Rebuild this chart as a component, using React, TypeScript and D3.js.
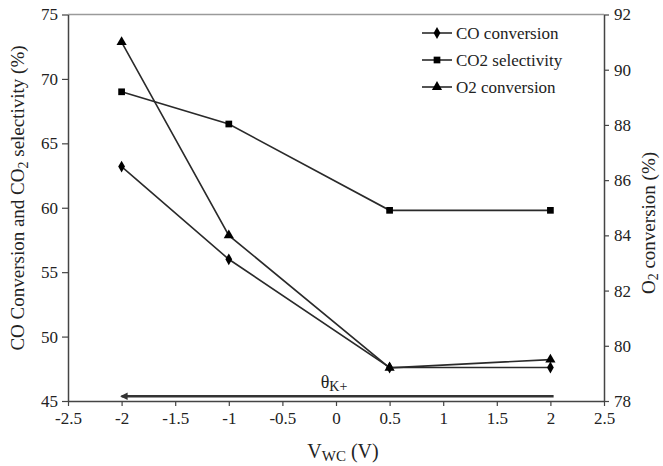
import React, { useEffect, useRef } from "react";
import * as d3 from "d3";

const vwc = [-2, -1, 0.5, 2];
const coConversion = [63.2, 56.0, 47.6, 47.6];
const co2Selectivity = [69.0, 66.5, 59.8, 59.8];
const o2Conversion = [91.0, 84.0, 79.2, 79.5];
const xTicks = [-2.5, -2, -1.5, -1, -0.5, 0, 0.5, 1, 1.5, 2, 2.5];
const yLeftTicks = [45, 50, 55, 60, 65, 70, 75];
const yRightTicks = [78, 80, 82, 84, 86, 88, 90, 92];
const legendLabels = ["CO conversion", "CO2 selectivity", "O2 conversion"];
const arrowFrom = 2.03;
const arrowTo = -2;
const arrowLevel = 45.37;

const W = 663, H = 466;
const M = { left: 68, right: 604, top: 14.5, bottom: 401 };
const FONT = "Liberation Serif, Times New Roman, serif";

export default function App() {
  const ref = useRef<SVGSVGElement | null>(null);
  useEffect(() => {
    const svg = d3.select(ref.current);
    svg.selectAll("*").remove();
    const x = d3.scaleLinear().domain([-2.5, 2.5]).range([M.left, M.right]);
    const yL = d3.scaleLinear().domain([45, 75]).range([M.bottom, M.top]);
    const yR = d3.scaleLinear().domain([78, 92]).range([M.bottom, M.top]);

    // top border
    svg.append("line").attr("x1", M.left).attr("x2", M.right).attr("y1", M.top).attr("y2", M.top)
      .attr("stroke", "#9a9a9a").attr("stroke-width", 1.5);

    const styleAxis = (g: any) => {
      g.selectAll(".domain").attr("stroke", "#444").attr("stroke-width", 1.5);
      g.selectAll(".tick line").attr("stroke", "#444").attr("stroke-width", 1.2);
      g.selectAll("text").attr("font-family", FONT).attr("font-size", 17).attr("fill", "#222");
    };

    const gx = svg.append("g").attr("transform", `translate(0,${M.bottom})`)
      .call(d3.axisBottom(x).tickValues(xTicks).tickSize(5).tickSizeOuter(0).tickPadding(6).tickFormat((d: any) => String(d)));
    styleAxis(gx);
    const gl = svg.append("g").attr("transform", `translate(${M.left},0)`)
      .call(d3.axisLeft(yL).tickValues(yLeftTicks).tickSize(6).tickSizeOuter(0).tickPadding(4));
    styleAxis(gl);
    const gr = svg.append("g").attr("transform", `translate(${M.right},0)`)
      .call(d3.axisRight(yR).tickValues(yRightTicks).tickSize(5).tickSizeOuter(0).tickPadding(5));
    styleAxis(gr);

    // theta arrow
    svg.append("defs").append("marker").attr("id", "ah").attr("viewBox", "0 0 10 10")
      .attr("refX", 8).attr("refY", 5).attr("markerWidth", 3.5).attr("markerHeight", 3)
      .attr("orient", "auto").append("path").attr("d", "M0,0 L10,5 L0,10 z").attr("fill", "#333");
    svg.append("line").attr("x1", x(arrowFrom)).attr("x2", x(arrowTo))
      .attr("y1", yL(arrowLevel)).attr("y2", yL(arrowLevel))
      .attr("stroke", "#333").attr("stroke-width", 2.5).attr("marker-end", "url(#ah)");
    const th = svg.append("text").attr("x", x(0) - 2).attr("y", yL(46.0)).attr("text-anchor", "middle")
      .attr("font-family", FONT).attr("font-size", 18).attr("fill", "#222");
    th.append("tspan").text("θ");
    th.append("tspan").attr("font-size", 14).attr("dy", 3).text("K+");

    const series = [
      { vals: coConversion, y: yL, sym: d3.symbolDiamond, size: 40 },
      { vals: co2Selectivity, y: yL, sym: d3.symbolSquare, size: 45 },
      { vals: o2Conversion, y: yR, sym: d3.symbolTriangle, size: 45 },
    ];
    series.forEach((s) => {
      const line = d3.line<number>().x((_, i) => x(vwc[i])).y((d) => s.y(d));
      svg.append("path").attr("d", line(s.vals) as string).attr("fill", "none")
        .attr("stroke", "#2a2a2a").attr("stroke-width", 1.6);
      svg.selectAll(null).data(s.vals).enter().append("path")
        .attr("transform", (d, i) => `translate(${x(vwc[i])},${s.y(d)})`)
        .attr("d", d3.symbol().type(s.sym).size(s.size)() as string).attr("fill", "#000");
    });

    // legend
    series.forEach((s, i) => {
      const ly = 33 + i * 27;
      svg.append("line").attr("x1", 422).attr("x2", 452).attr("y1", ly).attr("y2", ly)
        .attr("stroke", "#2a2a2a").attr("stroke-width", 1.6);
      svg.append("path").attr("transform", `translate(437,${ly})`)
        .attr("d", d3.symbol().type(s.sym).size(s.size)() as string).attr("fill", "#000");
      svg.append("text").attr("x", 456).attr("y", ly + 6).attr("font-family", FONT).attr("font-size", 17)
        .attr("fill", "#222").text(legendLabels[i]);
    });

    // axis titles
    const xt = svg.append("text").attr("x", 343).attr("y", 458).attr("text-anchor", "middle")
      .attr("font-family", FONT).attr("font-size", 20).attr("fill", "#222");
    xt.append("tspan").text("V");
    xt.append("tspan").attr("font-size", 15).attr("dy", 3).text("WC");
    xt.append("tspan").attr("dy", -3).text(" (V)");

    const lt = svg.append("text").attr("transform", `translate(24,198) rotate(-90)`).attr("text-anchor", "middle")
      .attr("font-family", FONT).attr("font-size", 19).attr("fill", "#222");
    lt.append("tspan").text("CO Conversion and CO");
    lt.append("tspan").attr("font-size", 14).attr("dy", 4).text("2");
    lt.append("tspan").attr("dy", -4).text(" selectivity (%)");

    const rt = svg.append("text").attr("transform", `translate(655,223) rotate(-90)`).attr("text-anchor", "middle")
      .attr("font-family", FONT).attr("font-size", 19).attr("fill", "#222");
    rt.append("tspan").text("O");
    rt.append("tspan").attr("font-size", 14).attr("dy", 3).text("2");
    rt.append("tspan").attr("dy", -3).text(" conversion (%)");
  }, []);
  return (
    <svg ref={ref} width={W} height={H} style={{ position: "absolute", left: 0, top: 0, background: "#fff" }} />
  );
}
